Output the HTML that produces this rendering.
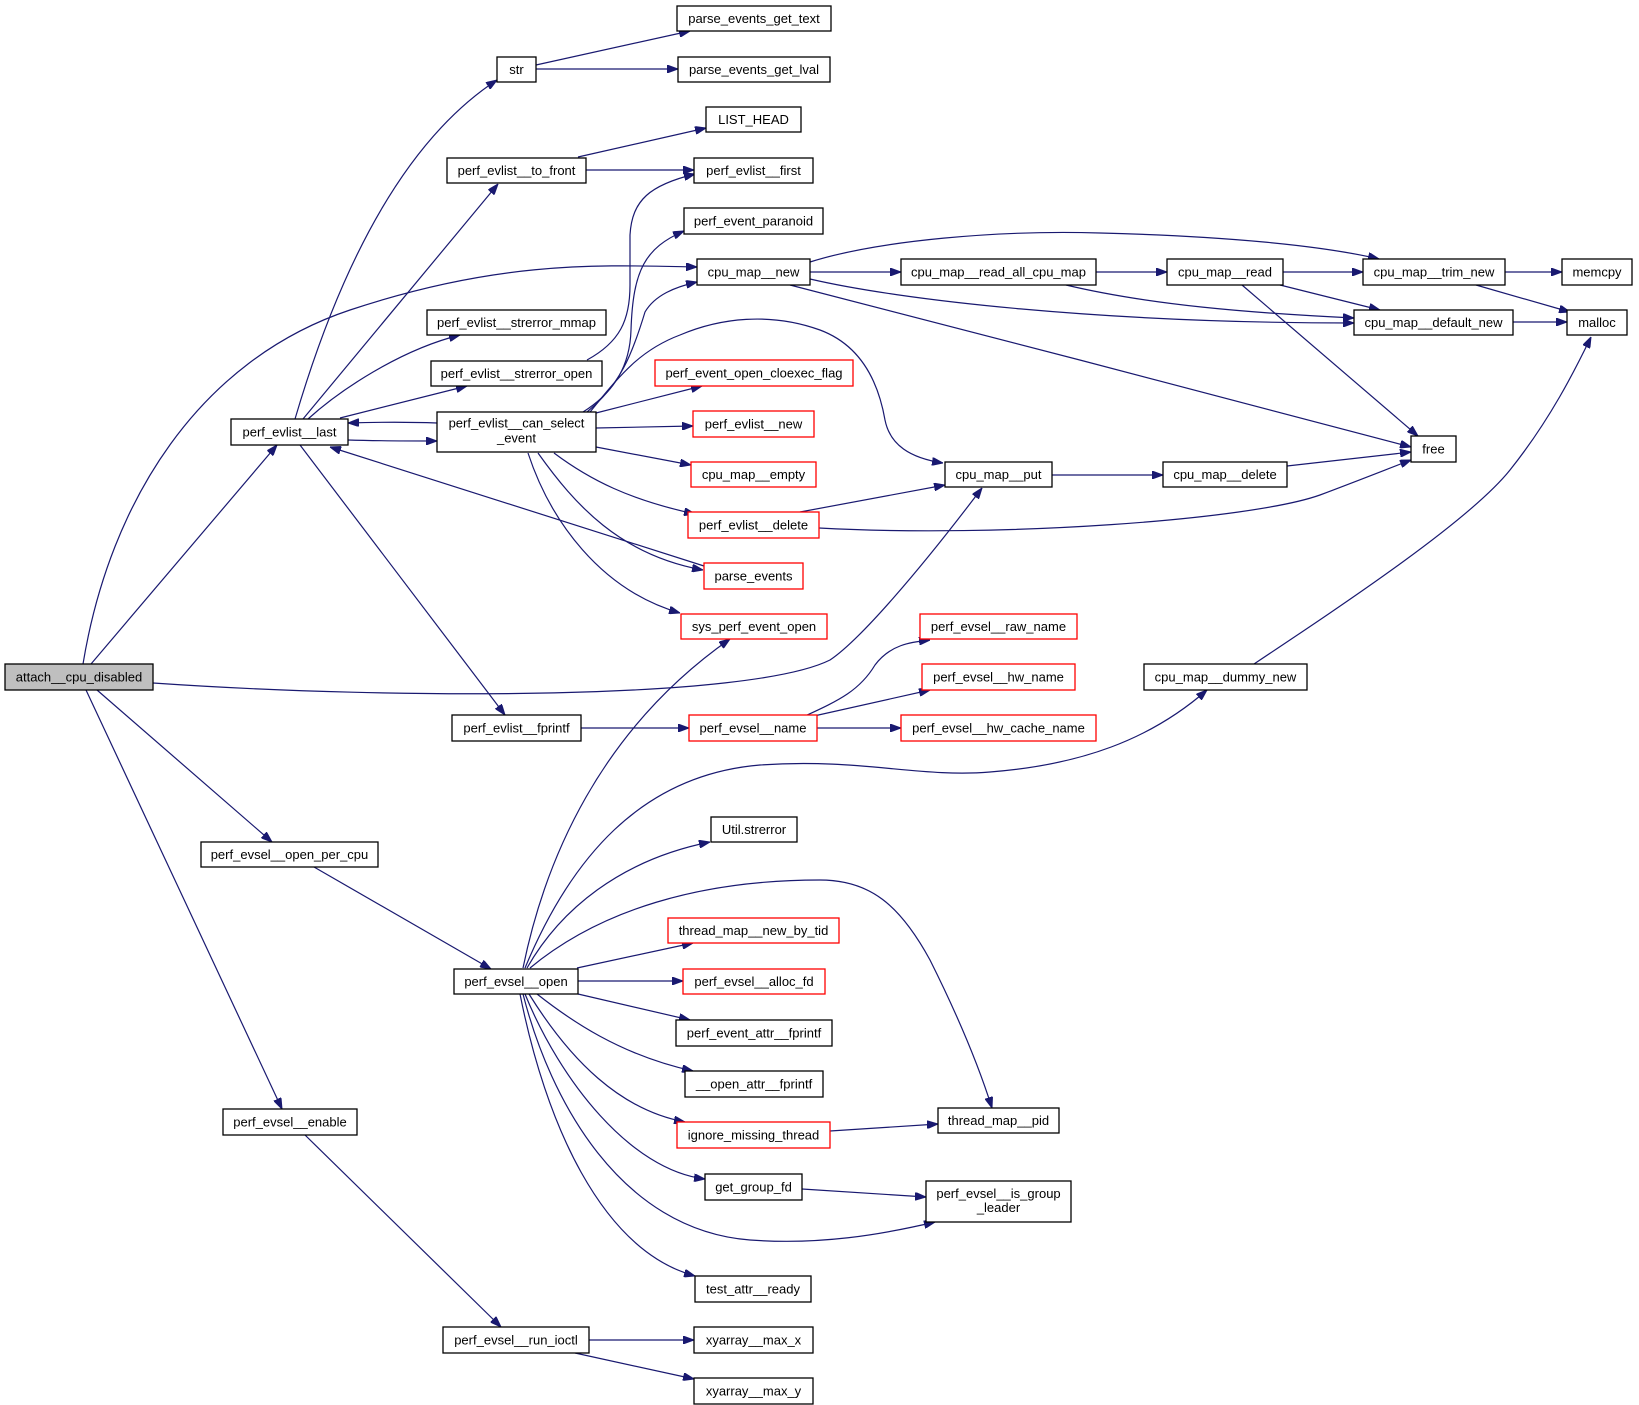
<!DOCTYPE html>
<html><head><meta charset="utf-8"><style>
html,body{margin:0;padding:0;background:#fff;}
svg{display:block;}
text{font-family:"Liberation Sans",Arial,sans-serif;font-size:13px;fill:#000;text-anchor:middle;}
.n{fill:#fff;stroke:#000;stroke-width:1.3;}
.r{fill:#fff;stroke:#ff0000;stroke-width:1.3;}
.g{fill:#bfbfbf;stroke:#000;stroke-width:1.3;}
.e{fill:none;stroke:#191970;stroke-width:1.2;marker-end:url(#a);}
</style></head><body>
<svg width="1639" height="1405" viewBox="0 0 1639 1405" xmlns="http://www.w3.org/2000/svg">
<defs><marker id="a" viewBox="0 0 11 8" refX="11" refY="4" markerWidth="11" markerHeight="8" orient="auto" markerUnits="userSpaceOnUse"><path d="M0,0 L11,4 L0,8 z" fill="#191970" stroke="#191970" stroke-width="1"/></marker></defs>

<!-- edges -->
<path class="e" d="M536,65 L690,31"/>
<path class="e" d="M536,69 L678,69"/>
<path class="e" d="M578,157 L706,128"/>
<path class="e" d="M586,170 L694,170"/>
<path class="e" d="M295,419 C330,300 390,150 497,80"/>
<path class="e" d="M303,419 L498,184"/>
<path class="e" d="M308,419 C340,390 400,350 460,335"/>
<path class="e" d="M340,418 L467,386"/>
<path class="e" d="M348,440 C380,441 410,441 437,441"/>
<path class="e" d="M437,423 C410,422 380,422 348,423"/>
<path class="e" d="M300,445 L505,715"/>
<path class="e" d="M704,566 L330,447"/>
<path class="e" d="M91,664 L277,445"/>
<path class="e" d="M83,664 C110,500 200,360 350,310 C500,260 600,265 697,267"/>
<path class="e" d="M153,683 C400,700 750,700 830,660 C860,640 920,570 982,488"/>
<path class="e" d="M97,690 L272,842"/>
<path class="e" d="M86,690 L282,1109"/>
<path class="e" d="M314,867 L491,969"/>
<path class="e" d="M305,1135 L501,1327"/>
<path class="e" d="M589,1340 L694,1340"/>
<path class="e" d="M575,1353 L694,1379"/>
<path class="e" d="M581,728 L689,728"/>
<path class="e" d="M805,716 C840,700 860,690 875,665 C890,645 910,642 930,640"/>
<path class="e" d="M805,718 L930,690"/>
<path class="e" d="M817,728 L901,728"/>
<path class="e" d="M587,360 C620,342 630,320 630,285 L630,235 C632,200 650,185 695,174"/>
<path class="e" d="M583,412 C615,392 630,365 631,330 C633,270 645,248 684,231"/>
<path class="e" d="M587,412 C620,385 632,355 645,312 C655,295 675,287 697,282"/>
<path class="e" d="M590,412 C620,375 640,350 680,335 C720,318 770,312 820,330 C860,345 878,380 885,420 C890,445 910,458 943,463"/>
<path class="e" d="M596,413 L702,386"/>
<path class="e" d="M596,428 L693,426"/>
<path class="e" d="M596,447 L691,465"/>
<path class="e" d="M554,453 C590,480 630,500 695,514"/>
<path class="e" d="M538,453 C575,505 620,555 703,570"/>
<path class="e" d="M528,453 C550,520 600,590 680,613"/>
<path class="e" d="M810,272 L901,272"/>
<path class="e" d="M810,262 C880,240 1000,230 1100,233 C1220,236 1320,245 1379,259"/>
<path class="e" d="M810,279 C900,300 1100,323 1354,323"/>
<path class="e" d="M790,285 C1000,340 1200,390 1411,447"/>
<path class="e" d="M1096,272 L1167,272"/>
<path class="e" d="M1066,285 C1150,305 1250,313 1354,318"/>
<path class="e" d="M1283,272 L1363,272"/>
<path class="e" d="M1280,285 L1380,310"/>
<path class="e" d="M1242,285 L1418,436"/>
<path class="e" d="M1505,272 L1562,272"/>
<path class="e" d="M1476,285 L1570,312"/>
<path class="e" d="M1513,322 L1567,322"/>
<path class="e" d="M1052,475 L1163,475"/>
<path class="e" d="M1287,466 L1411,452"/>
<path class="e" d="M800,512 L945,485"/>
<path class="e" d="M819,528 C1000,538 1250,520 1320,495 C1360,480 1390,468 1411,460"/>
<path class="e" d="M1254,664 C1350,600 1470,520 1510,470 C1550,420 1575,370 1591,337"/>
<path class="e" d="M523,968 C545,860 600,730 730,639"/>
<path class="e" d="M525,968 C570,860 640,775 760,765 C860,758 920,778 990,772 C1080,765 1150,740 1207,690"/>
<path class="e" d="M527,968 C560,910 620,860 710,842"/>
<path class="e" d="M530,968 C600,910 700,880 820,880 C870,880 900,905 930,960 C960,1020 980,1070 992,1108"/>
<path class="e" d="M577,968 L693,943"/>
<path class="e" d="M578,981 L683,981"/>
<path class="e" d="M578,994 L690,1020"/>
<path class="e" d="M537,994 C570,1020 620,1055 693,1071"/>
<path class="e" d="M529,994 C570,1060 620,1110 685,1122"/>
<path class="e" d="M525,994 C560,1080 630,1170 705,1179"/>
<path class="e" d="M523,994 C550,1100 620,1230 750,1240 C820,1245 880,1235 935,1222"/>
<path class="e" d="M520,994 C545,1120 600,1250 695,1276"/>
<path class="e" d="M830,1131 L938,1124"/>
<path class="e" d="M802,1189 L926,1197"/>

<!-- nodes -->
<rect class="n" x="497" y="57" width="39" height="25"/><text x="516.5" y="74">str</text>
<rect class="n" x="677" y="6" width="154" height="25"/><text x="754" y="23">parse_events_get_text</text>
<rect class="n" x="678" y="57" width="152" height="25"/><text x="754" y="74">parse_events_get_lval</text>
<rect class="n" x="706" y="107" width="95" height="25"/><text x="753.5" y="124">LIST_HEAD</text>
<rect class="n" x="447" y="158" width="139" height="25"/><text x="516.5" y="175">perf_evlist__to_front</text>
<rect class="n" x="694" y="158" width="119" height="25"/><text x="753.5" y="175">perf_evlist__first</text>
<rect class="n" x="684" y="208" width="139" height="26"/><text x="753.5" y="225.5">perf_event_paranoid</text>
<rect class="n" x="697" y="259" width="113" height="26"/><text x="753.5" y="276.5">cpu_map__new</text>
<rect class="n" x="427" y="310" width="179" height="25"/><text x="516.5" y="327">perf_evlist__strerror_mmap</text>
<rect class="n" x="431" y="361" width="171" height="25"/><text x="516.5" y="378">perf_evlist__strerror_open</text>
<rect class="r" x="655" y="360" width="198" height="26"/><text x="754" y="377.5">perf_event_open_cloexec_flag</text>
<rect class="n" x="437" y="412" width="159" height="40"/><text x="516.5" y="427.5">perf_evlist__can_select</text><text x="516.5" y="442.5">_event</text>
<rect class="n" x="231" y="419" width="117" height="26"/><text x="289.5" y="436.5">perf_evlist__last</text>
<rect class="r" x="693" y="411" width="121" height="26"/><text x="753.5" y="428.5">perf_evlist__new</text>
<rect class="r" x="691" y="462" width="125" height="25"/><text x="753.5" y="479">cpu_map__empty</text>
<rect class="r" x="688" y="512" width="131" height="26"/><text x="753.5" y="529.5">perf_evlist__delete</text>
<rect class="r" x="704" y="563" width="99" height="26"/><text x="753.5" y="580.5">parse_events</text>
<rect class="r" x="681" y="614" width="146" height="25"/><text x="754" y="631">sys_perf_event_open</text>
<rect class="g" x="5" y="664" width="148" height="26"/><text x="79" y="681.5">attach__cpu_disabled</text>
<rect class="n" x="452" y="715" width="129" height="26"/><text x="516.5" y="732.5">perf_evlist__fprintf</text>
<rect class="r" x="689" y="715" width="128" height="26"/><text x="753" y="732.5">perf_evsel__name</text>
<rect class="n" x="901" y="259" width="195" height="26"/><text x="998.5" y="276.5">cpu_map__read_all_cpu_map</text>
<rect class="n" x="1167" y="259" width="116" height="26"/><text x="1225" y="276.5">cpu_map__read</text>
<rect class="n" x="1363" y="259" width="142" height="26"/><text x="1434" y="276.5">cpu_map__trim_new</text>
<rect class="n" x="1562" y="259" width="70" height="26"/><text x="1597" y="276.5">memcpy</text>
<rect class="n" x="1354" y="310" width="159" height="25"/><text x="1433.5" y="327">cpu_map__default_new</text>
<rect class="n" x="1567" y="310" width="60" height="25"/><text x="1597" y="327">malloc</text>
<rect class="n" x="1411" y="436" width="45" height="26"/><text x="1433.5" y="453.5">free</text>
<rect class="n" x="945" y="462" width="107" height="25"/><text x="998.5" y="479">cpu_map__put</text>
<rect class="n" x="1163" y="462" width="124" height="25"/><text x="1225" y="479">cpu_map__delete</text>
<rect class="r" x="920" y="614" width="157" height="25"/><text x="998.5" y="631">perf_evsel__raw_name</text>
<rect class="r" x="922" y="664" width="153" height="26"/><text x="998.5" y="681.5">perf_evsel__hw_name</text>
<rect class="n" x="1144" y="664" width="163" height="26"/><text x="1225.5" y="681.5">cpu_map__dummy_new</text>
<rect class="r" x="901" y="715" width="195" height="26"/><text x="998.5" y="732.5">perf_evsel__hw_cache_name</text>
<rect class="n" x="711" y="817" width="86" height="25"/><text x="754" y="834">Util.strerror</text>
<rect class="n" x="201" y="842" width="177" height="25"/><text x="289.5" y="859">perf_evsel__open_per_cpu</text>
<rect class="r" x="668" y="918" width="171" height="25"/><text x="753.5" y="935">thread_map__new_by_tid</text>
<rect class="n" x="454" y="969" width="124" height="25"/><text x="516" y="986">perf_evsel__open</text>
<rect class="r" x="683" y="969" width="142" height="25"/><text x="754" y="986">perf_evsel__alloc_fd</text>
<rect class="n" x="676" y="1020" width="156" height="26"/><text x="754" y="1037.5">perf_event_attr__fprintf</text>
<rect class="n" x="685" y="1071" width="138" height="26"/><text x="754" y="1088.5">__open_attr__fprintf</text>
<rect class="r" x="677" y="1122" width="153" height="26"/><text x="753.5" y="1139.5">ignore_missing_thread</text>
<rect class="n" x="223" y="1109" width="134" height="26"/><text x="290" y="1126.5">perf_evsel__enable</text>
<rect class="n" x="705" y="1174" width="97" height="26"/><text x="753.5" y="1191.5">get_group_fd</text>
<rect class="n" x="938" y="1108" width="121" height="25"/><text x="998.5" y="1125">thread_map__pid</text>
<rect class="n" x="926" y="1181" width="145" height="41"/><text x="998.5" y="1198">perf_evsel__is_group</text><text x="998.5" y="1212">_leader</text>
<rect class="n" x="695" y="1276" width="116" height="26"/><text x="753" y="1293.5">test_attr__ready</text>
<rect class="n" x="443" y="1327" width="146" height="26"/><text x="516" y="1344.5">perf_evsel__run_ioctl</text>
<rect class="n" x="694" y="1327" width="119" height="26"/><text x="753.5" y="1344.5">xyarray__max_x</text>
<rect class="n" x="694" y="1378" width="119" height="26"/><text x="753.5" y="1395.5">xyarray__max_y</text>
</svg>
</body></html>
